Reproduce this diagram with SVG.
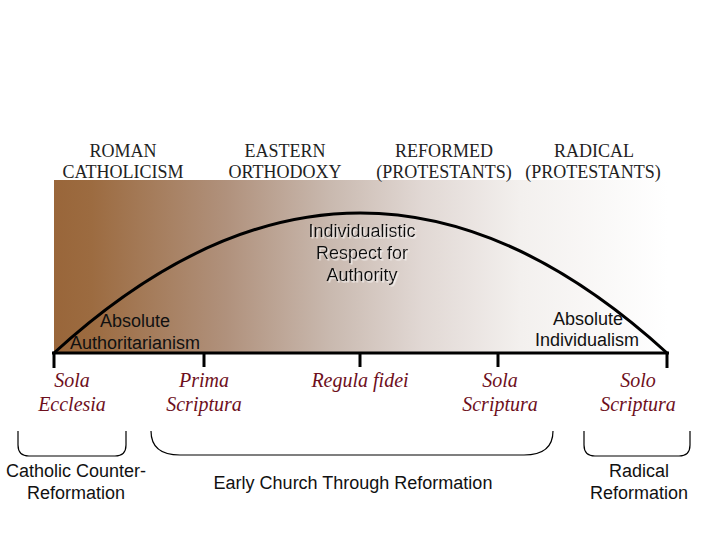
<svg xmlns="http://www.w3.org/2000/svg" width="720" height="540" viewBox="0 0 720 540">
  <defs>
    <linearGradient id="spectrum" x1="0" y1="0" x2="1" y2="0">
      <stop offset="0" stop-color="#99663a"/>
      <stop offset="0.06" stop-color="#9c6b40"/>
      <stop offset="0.28" stop-color="#b0917c"/>
      <stop offset="0.45" stop-color="#c9b9af"/>
      <stop offset="0.6" stop-color="#e1d8d4"/>
      <stop offset="0.76" stop-color="#f3f0ee"/>
      <stop offset="1" stop-color="#ffffff"/>
    </linearGradient>
    <filter id="shadow" x="-10%" y="-10%" width="130%" height="140%">
      <feDropShadow dx="1.5" dy="1.5" stdDeviation="0.6" flood-color="#ffffff" flood-opacity="0.7"/>
    </filter>
    <style>
      .head { font-family: "Liberation Serif", "Times New Roman", serif; font-size: 18px; fill: #222222; text-anchor: middle; }
      .sans { font-family: "Liberation Sans", Arial, sans-serif; font-size: 18px; fill: #111111; text-anchor: middle; }
      .script { font-family: "Liberation Serif", "Times New Roman", serif; font-style: italic; font-size: 20px; fill: #6e0f1c; text-anchor: middle; }
      .thick { stroke: #000000; stroke-width: 3; fill: none; }
      .brace { stroke: #000000; stroke-width: 1.2; fill: none; }
    </style>
  </defs>

  <rect width="720" height="540" fill="#ffffff"/>

  <g id="spectrum-band">
    <rect x="54" y="180" width="614" height="173" fill="url(#spectrum)"/>
  </g>

  <g id="headers">
    <g id="roman-catholicism">
      <text class="head" x="123" y="157">ROMAN</text>
      <text class="head" x="123" y="178">CATHOLICISM</text>
    </g>
    <g id="eastern-orthodoxy">
      <text class="head" x="285" y="157">EASTERN</text>
      <text class="head" x="285" y="178">ORTHODOXY</text>
    </g>
    <g id="reformed">
      <text class="head" x="444" y="157">REFORMED</text>
      <text class="head" x="444" y="178">(PROTESTANTS)</text>
    </g>
    <g id="radical">
      <text class="head" x="594" y="157">RADICAL</text>
      <text class="head" x="593" y="178">(PROTESTANTS)</text>
    </g>
  </g>

  <g id="connectors">
    <path class="thick" d="M54,353 Q360,73 667,353"/>
    <line class="thick" x1="52" y1="353" x2="669" y2="353"/>
    <line class="thick" x1="54" y1="352" x2="54" y2="368"/>
    <line class="thick" x1="204" y1="352" x2="204" y2="367"/>
    <line class="thick" x1="360" y1="352" x2="360" y2="367"/>
    <line class="thick" x1="498" y1="352" x2="498" y2="367"/>
    <line class="thick" x1="667" y1="352" x2="667" y2="368"/>
    <path class="brace" d="M18,431 L18,445 Q18,456 29,456 L115,456 Q126,456 126,445 L126,431"/>
    <path class="brace" d="M151,431 Q151,455 180,455 L524,455 Q553,455 553,431"/>
    <path class="brace" d="M584,431 L584,445 Q584,456 595,456 L679,456 Q690,456 690,445 L690,431"/>
  </g>

  <g id="individualistic-respect" filter="url(#shadow)">
    <text class="sans" x="362" y="237">Individualistic</text>
    <text class="sans" x="362" y="259">Respect for</text>
    <text class="sans" x="362" y="281">Authority</text>
  </g>

  <g id="absolute-authoritarianism">
    <text class="sans" x="135" y="327">Absolute</text>
    <text class="sans" x="135" y="349">Authoritarianism</text>
  </g>

  <g id="absolute-individualism">
    <text class="sans" x="588" y="325">Absolute</text>
    <text class="sans" x="587" y="346">Individualism</text>
  </g>

  <g id="sola-ecclesia">
    <text class="script" x="72" y="387">Sola</text>
    <text class="script" x="72" y="411">Ecclesia</text>
  </g>
  <g id="prima-scriptura">
    <text class="script" x="204" y="387">Prima</text>
    <text class="script" x="204" y="411">Scriptura</text>
  </g>
  <g id="regula-fidei">
    <text class="script" x="360" y="387">Regula fidei</text>
  </g>
  <g id="sola-scriptura">
    <text class="script" x="500" y="387">Sola</text>
    <text class="script" x="500" y="411">Scriptura</text>
  </g>
  <g id="solo-scriptura">
    <text class="script" x="638" y="387">Solo</text>
    <text class="script" x="638" y="411">Scriptura</text>
  </g>

  <g id="catholic-counter-reformation">
    <text class="sans" x="76" y="477">Catholic Counter-</text>
    <text class="sans" x="76" y="499">Reformation</text>
  </g>
  <g id="early-church">
    <text class="sans" x="353" y="489">Early Church Through Reformation</text>
  </g>
  <g id="radical-reformation">
    <text class="sans" x="639" y="477">Radical</text>
    <text class="sans" x="639" y="499">Reformation</text>
  </g>
</svg>
